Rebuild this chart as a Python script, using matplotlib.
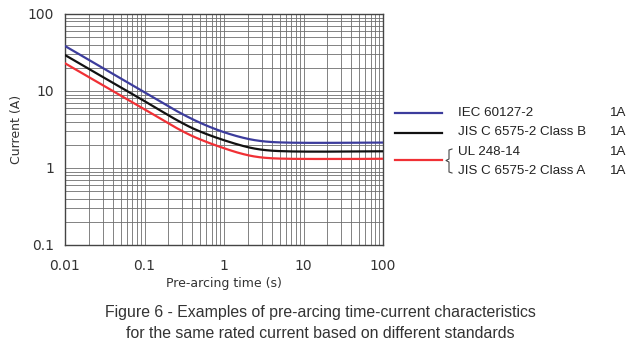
import numpy as np
import matplotlib
matplotlib.use("Agg")
import matplotlib.pyplot as plt
from matplotlib.ticker import LogLocator, NullFormatter, FixedLocator

# pre-arcing time (s) and current (A)
time_s = [0.01, 0.02, 0.05, 0.1, 0.2, 0.3, 0.5, 0.7, 1, 1.5, 2, 3, 5, 10, 20, 50, 100]
iec = [38.4, 25.3, 14.6, 9.6, 6.3, 4.95, 3.85, 3.3, 2.9, 2.55, 2.36, 2.2, 2.14, 2.12, 2.12, 2.13, 2.14]
jis_b = [29.3, 19.3, 11.2, 7.4, 4.85, 3.75, 2.95, 2.58, 2.3, 2.0, 1.84, 1.70, 1.65, 1.63, 1.63, 1.64, 1.65]
ul_jis_a = [22.9, 15.1, 8.75, 5.8, 3.8, 2.95, 2.33, 2.05, 1.80, 1.57, 1.44, 1.35, 1.32, 1.31, 1.31, 1.31, 1.32]

names = ["IEC 60127-2", "JIS C 6575-2 Class B", "UL 248-14", "JIS C 6575-2 Class A"]
ratings = ["1A", "1A", "1A", "1A"]

fig = plt.figure(figsize=(6.4, 3.48), dpi=100)
ax = fig.add_axes([65/640, 1 - 245/348, 318/640, 231/348])

# smooth the read points in log-log space
def smooth(x, y, w=41):
    lx = np.log10(x)
    ly = np.log10(y)
    xs = np.linspace(lx[0], lx[-1], 400)
    ys = np.interp(xs, lx, ly)
    h = w // 2
    step = xs[1] - xs[0]
    slope = (ly[1] - ly[0]) / (lx[1] - lx[0])
    left = ys[0] - slope * step * np.arange(h, 0, -1)
    pad = np.concatenate([left, ys, np.full(h, ys[-1])])
    ys = np.convolve(pad, np.ones(w) / w, mode="valid")
    return 10 ** xs, 10 ** ys

for y, c in [(iec, "#3c3c9c"), (jis_b, "#111111"), (ul_jis_a, "#f03035")]:
    xs, ys = smooth(np.array(time_s), np.array(y))
    ax.plot(xs, ys, color=c, lw=1.6, zorder=3)

ax.set_xscale("log")
ax.set_yscale("log")
ax.set_xlim(0.01, 100)
ax.set_ylim(0.1, 100)
ax.xaxis.set_major_locator(FixedLocator([0.01, 0.1, 1, 10, 100]))
ax.yaxis.set_major_locator(FixedLocator([0.1, 1, 10, 100]))
ax.xaxis.set_minor_locator(LogLocator(base=10, subs=np.arange(2, 10)))
ax.yaxis.set_minor_locator(LogLocator(base=10, subs=np.arange(2, 10)))
ax.xaxis.set_minor_formatter(NullFormatter())
ax.yaxis.set_minor_formatter(NullFormatter())
ax.set_xticklabels(["0.01", "0.1", "1", "10", "100"])
ax.set_yticklabels(["0.1", "1", "10", "100"])
ax.grid(True, which="both", color="#6e6e6e", lw=0.6)
ax.tick_params(which="both", length=0, labelsize=10, colors="#333333")
ax.tick_params(axis="x", pad=10)
ax.tick_params(axis="y", pad=8)
for s in ax.spines.values():
    s.set_color("#444444")
    s.set_linewidth(1.0)

ax.set_xlabel("Pre-arcing time (s)", fontsize=9, color="#333333", labelpad=3)
ax.set_ylabel("Current (A)", fontsize=9, color="#333333", labelpad=3)

# legend drawn by hand to the right of the axes
fs = 9.6
def fx(px):
    return px / 640
def fy(py):
    return 1 - py / 348

for py, c in [(113, "#3c3c9c"), (133, "#111111"), (160, "#f03035")]:
    fig.add_artist(plt.Line2D([fx(395), fx(442)], [fy(py), fy(py)], color=c, lw=1.6))
for name, r, py in zip(names, ratings, [113, 132, 152, 171]):
    fig.text(fx(458), fy(py), name, fontsize=fs, va="center", color="#222222",
             family="Liberation Sans")
    fig.text(fx(610), fy(py), r, fontsize=fs, va="center", color="#222222",
             family="Liberation Sans")
# brace joining the two standards that share the red curve
bx = [452, 449, 449, 446, 449, 449, 452]
by = [149, 150, 159, 160.5, 162, 172, 173]
fig.add_artist(plt.Line2D([fx(v) for v in bx], [fy(v) for v in by], color="#444444", lw=0.8))

fig.text(0.5, fy(313), "Figure 6 - Examples of pre-arcing time-current characteristics",
         ha="center", va="center", fontsize=11.4, family="Liberation Sans", color="#333333")
fig.text(0.5, fy(334), "for the same rated current based on different standards",
         ha="center", va="center", fontsize=11.4, family="Liberation Sans", color="#333333")

fig.savefig("out.png", dpi=100)
